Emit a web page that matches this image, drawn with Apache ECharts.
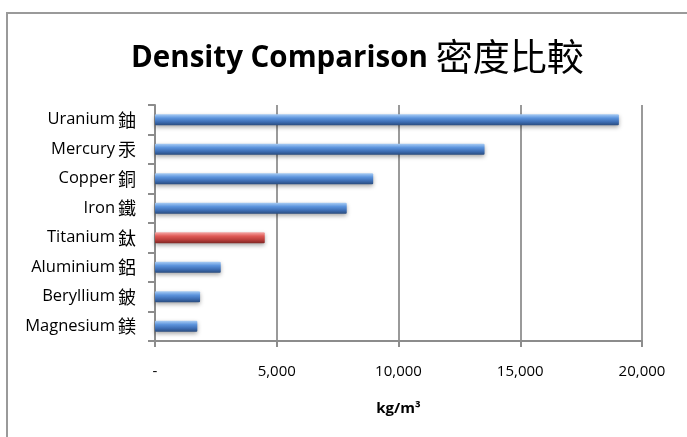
<!DOCTYPE html>
<html>
<head>
<meta charset="utf-8">
<script src="https://cdn.jsdelivr.net/npm/echarts@6/dist/echarts.min.js"></script>
<style>
  html, body { margin: 0; padding: 0; background: #fff; overflow: hidden; }
  #frame { position: absolute; left: 6px; top: 12px; width: 700px; height: 440px;
           border-left: 2px solid #9a9a9a; border-top: 2px solid #9a9a9a; }
  #chart { position: absolute; left: 0; top: 0; width: 687px; height: 437px; }
</style>
</head>
<body>
<div id="frame"></div>
<div id="chart"></div>
<script>
// 数据（从上到下）
var categories = ['Uranium 鈾', 'Mercury 汞', 'Copper 銅', 'Iron 鐵', 'Titanium 鈦', 'Aluminium 鋁', 'Beryllium 鈹', 'Magnesium 鎂'];
var densities = [19050, 13534, 8960, 7874, 4507, 2700, 1850, 1738];
var highlighted = ['Titanium 鈦'];
var xTicks = [0, 5000, 10000, 15000, 20000];

var blue = new echarts.graphic.LinearGradient(0, 0, 0, 1, [
  { offset: 0, color: '#a9cdf5' },
  { offset: 0.35, color: '#5b93dc' },
  { offset: 0.7, color: '#3d6db3' },
  { offset: 1, color: '#2a4c7e' }
]);
var red = new echarts.graphic.LinearGradient(0, 0, 0, 1, [
  { offset: 0, color: '#f5a9a7' },
  { offset: 0.35, color: '#df5a56' },
  { offset: 0.7, color: '#b83d3a' },
  { offset: 1, color: '#7f2624' }
]);

var chart = echarts.init(document.getElementById('chart'));
chart.setOption({
  animation: false,
  title: {
    text: '{a|Density Comparison}{b|密度比較}',
    left: 126,
    top: 33,
    textStyle: {
      rich: {
        a: { fontFamily: 'Open Sans', fontWeight: 'bold', fontSize: 29.5, color: '#000', padding: [4, 8, 0, 0] },
        b: { fontFamily: 'Noto Sans CJK TC', fontWeight: 'normal', fontSize: 37, color: '#000' }
      }
    }
  },
  grid: { left: 155, right: 45, top: 105, bottom: 96 },
  xAxis: {
    type: 'value',
    min: xTicks[0],
    max: xTicks[xTicks.length - 1],
    interval: 5000,
    name: 'kg/m³',
    nameLocation: 'middle',
    nameGap: 60,
    nameTextStyle: { fontFamily: 'Open Sans', fontWeight: 'bold', fontSize: 15, color: '#000' },
    axisLine: { show: true, lineStyle: { color: '#8c8c8c', width: 2 } },
    axisTick: { show: true, length: 6, lineStyle: { color: '#8c8c8c', width: 2 } },
    splitLine: { show: true, lineStyle: { color: '#9a9a9a', width: 2 } },
    axisLabel: {
      margin: 23,
      fontFamily: 'Open Sans',
      fontSize: 15,
      color: '#000',
      formatter: function (v) { return v === 0 ? '-' : v.toLocaleString('en-US'); }
    }
  },
  yAxis: {
    type: 'category',
    inverse: true,
    data: categories,
    axisLine: { show: true, lineStyle: { color: '#8c8c8c', width: 2 } },
    axisTick: { show: true, length: 7, lineStyle: { color: '#8c8c8c', width: 2 } },
    axisLabel: {
      margin: 19,
      formatter: function (v) {
        var p = v.split(' ');
        return '{a|' + p[0] + '}{b|' + p[1] + '}';
      },
      rich: {
        a: { fontFamily: 'Open Sans', fontSize: 16.5, color: '#000', padding: [0, 3, 0, 0] },
        b: { fontFamily: 'Noto Sans CJK TC', fontSize: 18, color: '#000' }
      }
    }
  },
  series: [{
    type: 'bar',
    barWidth: 11,
    data: densities.map(function (v, i) {
      return {
        value: v,
        itemStyle: { color: highlighted.indexOf(categories[i]) >= 0 ? red : blue }
      };
    }),
    itemStyle: {
      borderRadius: 1,
      shadowColor: 'rgba(0,0,0,0.35)',
      shadowBlur: 4,
      shadowOffsetY: 2
    }
  }]
});
</script>
</body>
</html>
